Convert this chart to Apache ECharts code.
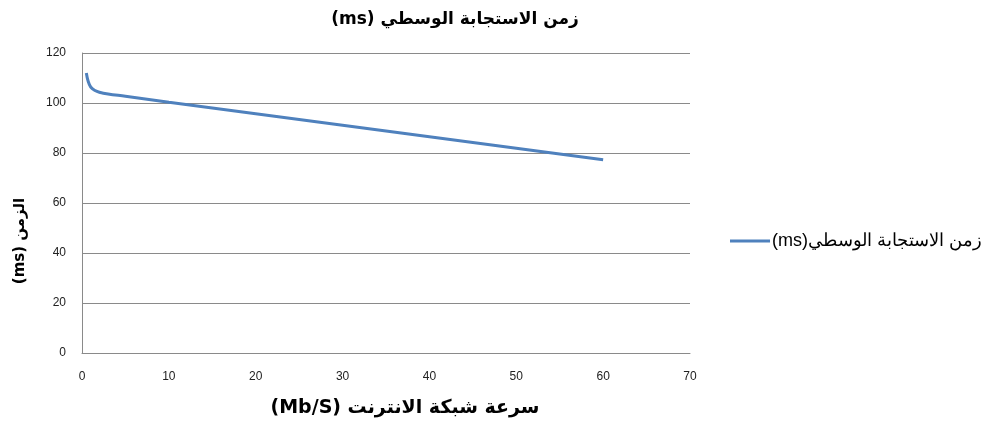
<!DOCTYPE html>
<html>
<head>
<meta charset="utf-8">
<script src="https://cdn.jsdelivr.net/npm/echarts@6/dist/echarts.min.js"></script>
<style>
  html, body { margin: 0; padding: 0; background: #fff; }
  #chart { width: 988px; height: 423px; }
</style>
</head>
<body>
<div id="chart" dir="rtl"></div>
<script>
// Median response time against internet connection speed
const titleText = 'زمن الاستجابة الوسطي (ms)';
const seriesName = 'زمن الاستجابة الوسطي(ms)';
const xAxisName = 'سرعة شبكة الانترنت (Mb/S)';
const yAxisName = 'الزمن (ms)';

const speeds = [0.5, 0.7, 1, 1.5, 2, 3, 5, 10, 20, 30, 40, 50, 60];
const responseTimes = [112, 108.8, 106.4, 105, 104.3, 103.6, 102.7, 100.3, 95.7, 91.1, 86.5, 81.9, 77.3];

const xTicks = { min: 0, max: 70, interval: 10 };
const yTicks = { min: 0, max: 120, interval: 20 };

const points = speeds.map((s, i) => [s, responseTimes[i]]);

const chart = echarts.init(document.getElementById('chart'), null, { renderer: 'canvas' });
const labelFont = 'Liberation Sans, Arial, sans-serif';

chart.setOption({
  animation: false,
  backgroundColor: '#ffffff',
  title: {
    text: titleText,
    left: 450,
    top: 6,
    textAlign: 'center',
    textStyle: { fontFamily: 'DejaVu Sans, sans-serif', fontWeight: 'bold', fontSize: 17, color: '#000' }
  },
  legend: {
    left: 725,
    top: 227,
    orient: 'vertical',
    icon: 'path://M0,0 L40,0 L40,3 L0,3 Z',
    itemWidth: 40,
    itemHeight: 3,
    itemGap: 4,
    textStyle: { fontFamily: 'Liberation Sans, Arial, sans-serif', fontSize: 18, color: '#000', padding: [0, 0, 0, -3] },
    data: [seriesName]
  },
  grid: { left: 82, right: 298, top: 53, bottom: 70 },
  xAxis: {
    type: 'value',
    min: xTicks.min, max: xTicks.max, interval: xTicks.interval,
    name: xAxisName,
    nameLocation: 'middle',
    nameGap: 46,
    nameTextStyle: { fontFamily: 'DejaVu Sans, sans-serif', fontWeight: 'bold', fontSize: 19, color: '#000', padding: [0, 0, 0, 38] },
    axisLine: { show: true, lineStyle: { color: '#8a8a8a', width: 1 } },
    axisTick: { show: false },
    axisLabel: { fontFamily: labelFont, fontSize: 12, color: '#222', margin: 18 },
    splitLine: { show: false }
  },
  yAxis: {
    type: 'value',
    min: yTicks.min, max: yTicks.max, interval: yTicks.interval,
    name: yAxisName,
    nameLocation: 'middle',
    nameRotate: 90,
    nameGap: 54,
    nameTextStyle: { fontFamily: 'DejaVu Sans, sans-serif', fontWeight: 'bold', fontSize: 15, color: '#000', padding: [0, 76, 0, 0] },
    axisLine: { show: true, lineStyle: { color: '#8a8a8a', width: 1 } },
    axisTick: { show: false },
    axisLabel: { fontFamily: labelFont, fontSize: 12, color: '#222', margin: 16 },
    splitLine: { show: true, lineStyle: { color: '#8a8a8a', width: 1 } }
  },
  series: [{
    name: seriesName,
    type: 'line',
    data: points,
    smooth: 0.4,
    symbol: 'none',
    lineStyle: { color: '#4f81bd', width: 3 },
    itemStyle: { color: '#4f81bd' }
  }]
});
</script>
</body>
</html>
